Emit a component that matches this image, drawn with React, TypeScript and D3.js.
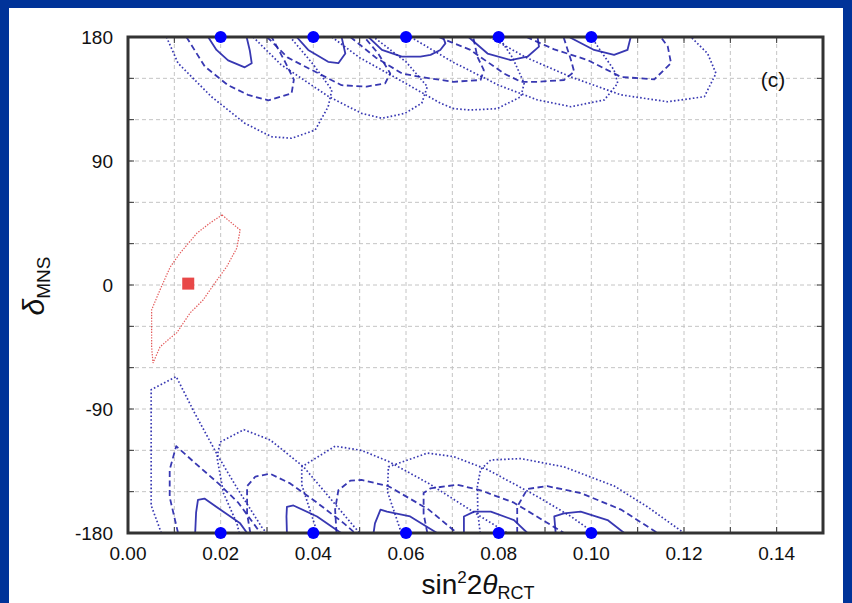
import React from "react";
import * as d3 from "d3";

type Pt = [number, number];

// Axis ticks and labels
const xTickValues = [0, 0.02, 0.04, 0.06, 0.08, 0.1, 0.12, 0.14];
const yTickValues = [180, 90, 0, -90, -180];
const xGridValues = [0.01, 0.02, 0.03, 0.04, 0.05, 0.06, 0.07, 0.08, 0.09, 0.1, 0.11, 0.12, 0.13, 0.14];
const yGridValues = [150, 120, 90, 60, 30, 0, -30, -60, -90, -120, -150];

// True input points (delta = +/-180)
const truePointsX = [0.02, 0.04, 0.06, 0.08, 0.1];

// Allowed regions near delta = +180 (one entry per true point)
const topSolid: Pt[][] = [
  [[0.0173, 180], [0.0191, 170.6], [0.0216, 163], [0.0252, 158], [0.0267, 161], [0.0263, 170], [0.0256, 180]],
  [[0.0364, 180], [0.0389, 170.6], [0.0432, 162], [0.0454, 161], [0.0469, 168], [0.0461, 180]],
  [[0.0519, 180], [0.0548, 170.6], [0.0591, 165.7], [0.0631, 165.7], [0.0653, 167], [0.0674, 170.6], [0.0685, 175.4], [0.068, 180]],
  [[0.0735, 180], [0.0776, 168], [0.0826, 163.3], [0.0862, 165.7], [0.0887, 173], [0.0884, 180]],
  [[0.0952, 180], [0.1006, 170.6], [0.1049, 167], [0.1078, 170.6], [0.1085, 180]],
];
const topDashed: Pt[][] = [
  [[0.0126, 180], [0.0166, 158.5], [0.0216, 145], [0.0259, 138], [0.0303, 134], [0.0353, 139], [0.0358, 149], [0.0339, 162], [0.031, 180]],
  [[0.03, 180], [0.0345, 165], [0.0411, 153.6], [0.0461, 145], [0.0515, 144], [0.0555, 146.4], [0.0566, 153.6], [0.054, 168], [0.051, 180]],
  [[0.048, 180], [0.0535, 165], [0.0591, 153.6], [0.0631, 151], [0.0703, 147.5], [0.0761, 148.8], [0.0768, 156], [0.0754, 165.7], [0.0745, 180]],
  [[0.067, 180], [0.0739, 170.6], [0.0811, 153.6], [0.0848, 147.5], [0.0884, 147.5], [0.0941, 148.8], [0.0963, 154.8], [0.0956, 163.3], [0.094, 180]],
  [[0.086, 180], [0.092, 171], [0.0992, 163.3], [0.1064, 151], [0.1136, 149.3], [0.1172, 161], [0.1165, 173], [0.115, 180]],
];
const topDotted: Pt[][] = [
  [[0.0083, 180], [0.0108, 161], [0.018, 136.7], [0.0252, 117.4], [0.031, 107.6], [0.0353, 106.5], [0.0404, 112.5], [0.0432, 129.4], [0.044, 141.5], [0.04, 160], [0.035, 180]],
  [[0.027, 180], [0.033, 160], [0.0432, 137], [0.0504, 124.6], [0.0548, 121], [0.0598, 124.6], [0.0634, 132], [0.0646, 144], [0.06, 162], [0.053, 180]],
  [[0.044, 180], [0.05, 165], [0.058, 150], [0.0674, 132], [0.0703, 128], [0.0739, 127], [0.0797, 128], [0.0848, 136.7], [0.0855, 146.4], [0.083, 165], [0.08, 180]],
  [[0.061, 180], [0.07, 162], [0.08, 145], [0.0884, 134.3], [0.0956, 129.4], [0.1028, 134.3], [0.1057, 146.4], [0.1049, 156], [0.102, 170], [0.1, 180]],
  [[0.078, 180], [0.086, 165], [0.0956, 151], [0.1064, 138], [0.1165, 133], [0.1244, 136.7], [0.1269, 153.6], [0.1251, 168], [0.1215, 180]],
];

// Allowed regions near delta = -180
const bottomSolid: Pt[][] = [
  [[0.0145, -180], [0.0147, -165], [0.0151, -156], [0.0165, -155], [0.0199, -163], [0.0242, -173], [0.0257, -180]],
  [[0.0343, -180], [0.0342, -168], [0.0343, -161], [0.0357, -160], [0.0408, -168], [0.0451, -178], [0.046, -180]],
  [[0.053, -180], [0.0533, -173], [0.0545, -163], [0.0559, -164.5], [0.0609, -168], [0.0667, -180]],
  [[0.0725, -180], [0.0725, -168], [0.0747, -164.5], [0.0783, -164.5], [0.0833, -170.6], [0.0862, -180]],
  [[0.0923, -180], [0.092, -168], [0.0941, -165.7], [0.0977, -164.5], [0.1035, -170.6], [0.1071, -180]],
];
const bottomDashed: Pt[][] = [
  [[0.0108, -180], [0.009, -154], [0.009, -134], [0.0104, -117], [0.0144, -129], [0.0195, -144], [0.0238, -158], [0.0286, -180]],
  [[0.0264, -180], [0.0257, -166], [0.0257, -146], [0.0275, -139], [0.0307, -137], [0.035, -144], [0.0408, -158], [0.0466, -173], [0.049, -180]],
  [[0.045, -180], [0.0447, -163], [0.0454, -149], [0.048, -142], [0.0504, -141.5], [0.0562, -146], [0.0649, -163], [0.071, -180]],
  [[0.0646, -180], [0.0638, -166], [0.0638, -151], [0.0653, -147.6], [0.0711, -145], [0.0761, -149], [0.0833, -158], [0.0941, -180]],
  [[0.084, -180], [0.084, -161], [0.0862, -148], [0.0905, -146], [0.0977, -151], [0.1064, -163], [0.1143, -180]],
];
const bottomDotted: Pt[][] = [
  [[0.0072, -180], [0.005, -160], [0.005, -76], [0.0104, -66.5], [0.0144, -93], [0.0195, -124.6], [0.0238, -148.8], [0.0288, -175.4], [0.0299, -180]],
  [[0.024, -180], [0.0235, -173], [0.0206, -151], [0.0192, -125], [0.0199, -114], [0.025, -105], [0.0307, -112.5], [0.0379, -132], [0.0487, -175], [0.05, -180]],
  [[0.041, -180], [0.0404, -175], [0.0375, -145], [0.0375, -132], [0.0447, -117], [0.0504, -120], [0.0562, -128], [0.0649, -144], [0.0761, -168], [0.0819, -180]],
  [[0.059, -180], [0.058, -170], [0.056, -150], [0.0562, -132], [0.0646, -122], [0.0703, -124.6], [0.0776, -134], [0.0884, -153.6], [0.0956, -168], [0.1006, -180]],
  [[0.076, -180], [0.0755, -165], [0.0754, -146], [0.0761, -134], [0.0783, -127], [0.0848, -126], [0.0941, -132], [0.105, -146], [0.1121, -161], [0.12, -180]],
];

// Fitted region for the reference point
const redContour: Pt[] = [
  [0.0203, 50.8], [0.0242, 39.9], [0.0235, 26.9], [0.0213, 13.3], [0.0192, 3.6], [0.0162, -10.9],
  [0.0134, -20.3], [0.0105, -34.8], [0.0091, -38.5], [0.0069, -45], [0.0054, -56.6], [0.0051, -45],
  [0.0051, -18], [0.0069, -3.6], [0.0091, 13], [0.0112, 23], [0.0149, 37.7], [0.0177, 45],
];
const redPoint: Pt = [0.013, 1];

const W = 852;
const H = 603;
const left = 128, right = 823, top = 37, bottom = 533;

export default function App() {
  const x = d3.scaleLinear().domain([0, 0.15]).range([left, right]);
  const y = d3.scaleLinear().domain([-180, 180]).range([bottom, top]);
  const line = d3.line<Pt>().x((d) => x(d[0])).y((d) => y(d[1]));
  const closed = d3.line<Pt>().x((d) => x(d[0])).y((d) => y(d[1])).curve(d3.curveLinearClosed);

  const blue = "#2222aa";
  const styles = {
    solid: { dash: undefined as string | undefined, w: 1.8 },
    dashed: { dash: "6,3.5", w: 1.8 },
    dotted: { dash: "1.6,2.2", w: 1.7 },
  };
  const groups: [Pt[][], keyof typeof styles][] = [
    [topDotted, "dotted"], [bottomDotted, "dotted"],
    [topDashed, "dashed"], [bottomDashed, "dashed"],
    [topSolid, "solid"], [bottomSolid, "solid"],
  ];

  const font = "Liberation Sans, Arial, Helvetica, sans-serif";

  return (
    <svg width={W} height={H} style={{ position: "absolute", left: 0, top: 0 }} xmlns="http://www.w3.org/2000/svg">
      <defs>
        <clipPath id="plotClip">
          <rect x={left} y={top} width={right - left} height={bottom - top} />
        </clipPath>
      </defs>
      <rect x={0} y={0} width={W} height={H} fill="#003399" />
      <rect x={9} y={8} width={834} height={H - 8} fill="#ffffff" />

      {/* grid */}
      <g stroke="#c4c4c4" strokeWidth={1} strokeDasharray="4,3">
        {xGridValues.map((v) => (
          <line key={"gx" + v} x1={x(v)} x2={x(v)} y1={top} y2={bottom} />
        ))}
        {yGridValues.map((v) => (
          <line key={"gy" + v} x1={left} x2={right} y1={y(v)} y2={y(v)} />
        ))}
      </g>
      {/* inner ticks */}
      <g stroke="#333" strokeWidth={1}>
        {xGridValues.map((v) => (
          <g key={"tx" + v}>
            <line x1={x(v)} x2={x(v)} y1={top} y2={top + 6} />
            <line x1={x(v)} x2={x(v)} y1={bottom} y2={bottom - 6} />
          </g>
        ))}
        {yGridValues.map((v) => (
          <g key={"ty" + v}>
            <line x1={left} x2={left + 6} y1={y(v)} y2={y(v)} />
            <line x1={right} x2={right - 6} y1={y(v)} y2={y(v)} />
          </g>
        ))}
      </g>

      {/* contours */}
      <g clipPath="url(#plotClip)" fill="none" stroke={blue} strokeOpacity={0.9}>
        {groups.map(([set, kind], gi) =>
          set.map((pts, i) => (
            <path
              key={gi + "-" + i}
              d={line(pts) ?? ""}
              strokeWidth={styles[kind].w}
              strokeDasharray={styles[kind].dash}
              strokeLinejoin="round"
            />
          ))
        )}
        <path d={closed(redContour) ?? ""} stroke="#e04848" strokeOpacity={0.9} strokeWidth={1.2} strokeDasharray="1.4,1.4" />
      </g>

      {/* frame */}
      <rect x={left} y={top} width={right - left} height={bottom - top} fill="none" stroke="#333" strokeWidth={3} />

      {/* true points */}
      <g fill="#0000ff">
        {truePointsX.map((v) => (
          <g key={"p" + v}>
            <circle cx={x(v)} cy={y(180)} r={6} />
            <circle cx={x(v)} cy={y(-180)} r={6} />
          </g>
        ))}
      </g>
      <rect x={x(redPoint[0]) - 6} y={y(redPoint[1]) - 6} width={12} height={12} fill="#e84848" />

      {/* tick labels */}
      <g fontFamily={font} fontSize={19} fill="#111">
        {xTickValues.map((v) => (
          <text key={"xl" + v} x={x(v)} y={560} textAnchor="middle">
            {v.toFixed(2)}
          </text>
        ))}
        {yTickValues.map((v) => (
          <text key={"yl" + v} x={113} y={y(v) + 7} textAnchor="end">
            {String(v)}
          </text>
        ))}
      </g>

      <text x={773} y={87} fontFamily={font} fontSize={21} textAnchor="middle" fill="#111">(c)</text>

      {/* axis titles */}
      <text x={478} y={594} fontFamily={font} fontSize={28} textAnchor="middle" fill="#111">
        sin<tspan fontSize={17} dy={-11}>2</tspan>
        <tspan dy={11}>2</tspan>
        <tspan fontStyle="italic">θ</tspan>
        <tspan fontSize={18} dy={5}>RCT</tspan>
      </text>
      <text transform="translate(44,286) rotate(-90)" fontFamily={font} fontSize={30} textAnchor="middle" fill="#111">
        <tspan fontStyle="italic">δ</tspan>
        <tspan fontSize={19} dy={6}>MNS</tspan>
      </text>
    </svg>
  );
}
